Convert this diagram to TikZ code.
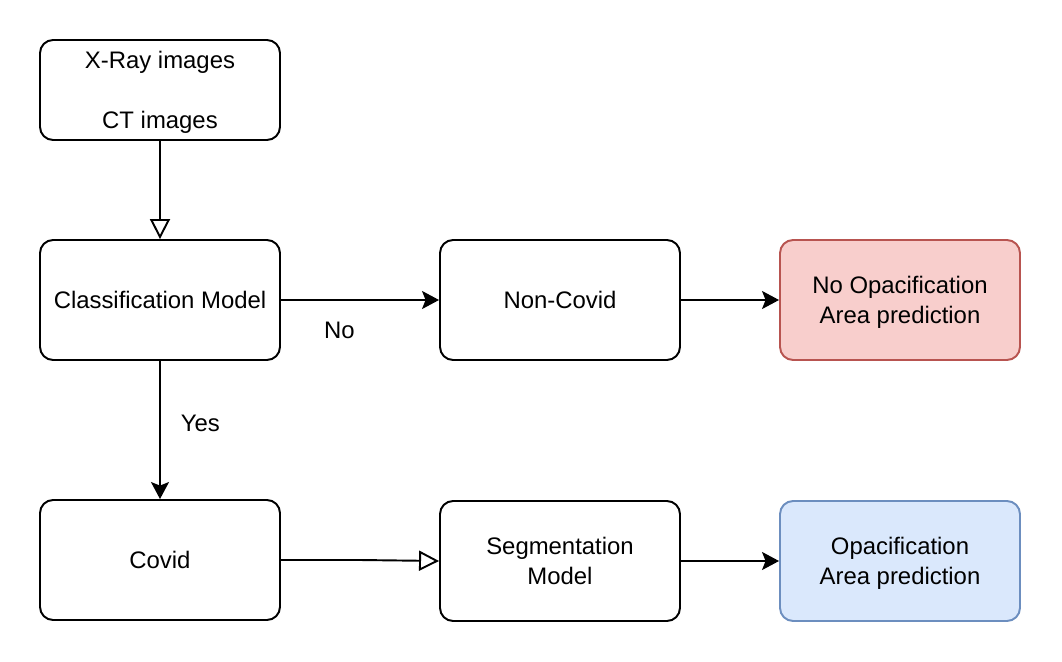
\documentclass[tikz,border=0pt]{standalone}
\usepackage{fontspec}
\setmainfont{Liberation Sans}
\usepackage{xcolor}
\usetikzlibrary{arrows.meta}
\definecolor{redfill}{HTML}{F8CECC}
\definecolor{redline}{HTML}{B85450}
\definecolor{bluefill}{HTML}{DAE8FC}
\definecolor{blueline}{HTML}{6C8EBF}
\tikzset{
  box/.style={draw, line width=1.1pt, rounded corners=0.26cm, align=center,
    minimum width=4.8cm, minimum height=2.4cm, inner sep=2pt, text depth=0pt},
  conn/.style={line width=1.1pt, -{Stealth[length=0.34cm, width=0.36cm, inset=0.07cm]}},
  openconn/.style={line width=1.1pt, -{Triangle[open, length=0.4cm, width=0.4cm]}}
}
\begin{document}
\begin{tikzpicture}[x=0.02cm, y=-0.02cm, font=\fontsize{13.6}{17}\selectfont]
\useasboundingbox (0,0) rectangle (1062,662);
% top row
\node [box, minimum height=2cm] (img) at (160,90) {X-Ray images\\[17pt]CT images};
% middle row
\node [box] (cls) at (160,300) {Classification Model};
\node [box] (noncov) at (560,300) {Non-Covid};
\node [box, fill=redfill, draw=redline] (noopac) at (900,300) {No Opacification\\Area prediction};
% bottom row
\node [box] (cov) at (160,560) {Covid};
\node [box] (seg) at (560,561) {Segmentation\\Model};
\node [box, fill=bluefill, draw=blueline] (opac) at (900,561) {Opacification\\Area prediction};
% connectors
\draw [openconn] (img) -- (cls);
\draw [conn] (cls) -- (noncov) node (lno) [pos=0.37, below=8.5pt] {No};
\draw [conn] (noncov) -- (noopac);
\draw [conn] (cls) -- (cov) node (lyes) [pos=0.45, right=8pt] {Yes};
\coordinate (kink) at (360,560);
\draw [openconn] (cov.east) -- (kink) -- (seg.west);
\draw [conn] (seg) -- (opac);
\end{tikzpicture}
\end{document}
